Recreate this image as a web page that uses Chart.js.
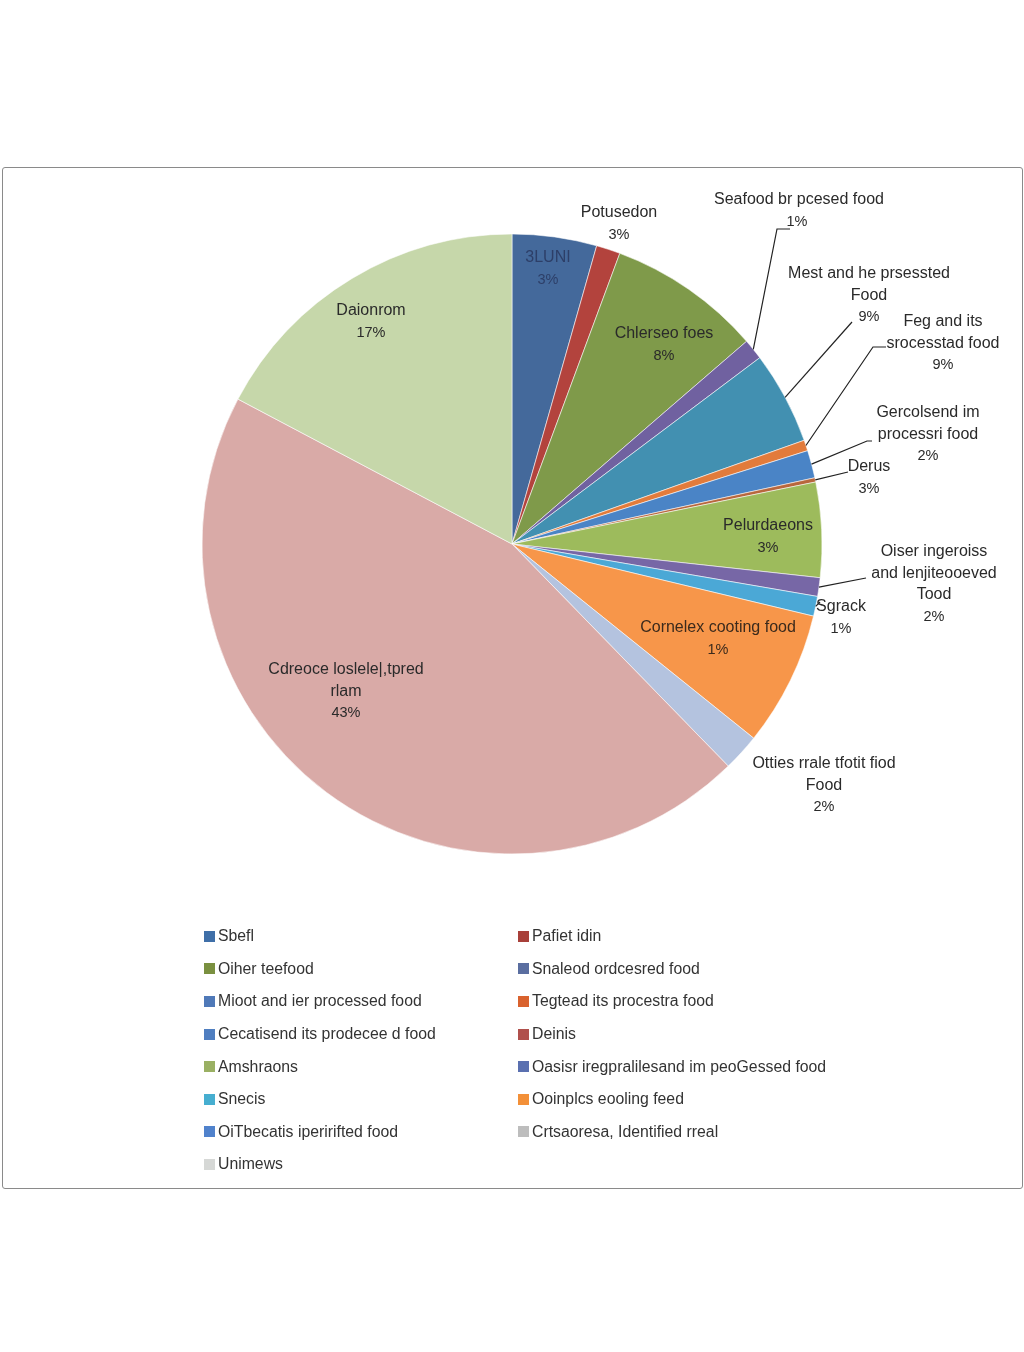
<!DOCTYPE html>
<html>
<head>
<meta charset="utf-8">
<script src="https://cdn.jsdelivr.net/npm/chart.js@4"></script>
<style>
  html, body { margin:0; padding:0; background:#fff; }
  body { width:1024px; height:1352px; position:relative; overflow:hidden; font-family:"Liberation Sans", Arial, sans-serif; }
  #box { position:absolute; left:2px; top:167px; width:1021px; height:1022px; border:1.5px solid #8a8a8a; border-radius:3px; box-sizing:border-box; }
  #wrap { position:absolute; left:0; top:167px; width:1024px; height:754px; }
  #legend { position:absolute; left:204px; top:920px; width:720px; display:grid; grid-template-columns:314px 400px; grid-auto-rows:32.6px; }
  .li { display:flex; align-items:center; font-size:15.8px; color:#333; white-space:nowrap; }
  .sw { width:11px; height:11px; margin-right:3px; flex:none; }
</style>
</head>
<body>
<div id="box"></div>
<div id="wrap"><canvas id="c" width="1024" height="754"></canvas></div>
<div id="legend"></div>
<script>
// ---- data ----
const categories = [
  "Sbefl", "Pafiet idin", "Oiher teefood", "Snaleod ordcesred food",
  "Mioot and ier processed food", "Tegtead its procestra food",
  "Cecatisend its prodecee d food", "Deinis", "Amshraons",
  "Oasisr iregpralilesand im peoGessed food", "Snecis",
  "Ooinplcs eooling feed", "OiTbecatis iperirifted food",
  "Crtsaoresa, Identified rreal", "Unimews"
];
const shares = [4.4, 1.25, 8.0, 1.08, 4.83, 0.56, 1.44, 0.22, 4.94, 0.97, 1.03, 7.03, 1.94, 45.0, 17.25];
const sliceLabels = [
  ["3LUNI"], ["Potusedon"], ["Chlerseo foes"], ["Seafood br pcesed food"],
  ["Mest and he prsessted", "Food"], ["Feg and its", "srocesstad food"],
  ["Gercolsend im", "processri food"], ["Derus"], ["Pelurdaeons"],
  ["Oiser ingeroiss", "and lenjiteooeved", "Tood"], ["Sgrack"],
  ["Cornelex cooting food"], ["Otties rrale tfotit fiod", "Food"],
  ["Cdreoce loslele|,tpred", "rlam"], ["Daionrom"]
];
const pctLabels = ["3%", "3%", "8%", "1%", "9%", "9%", "2%", "3%", "3%", "2%", "1%", "1%", "2%", "43%", "17%"];

// ---- styles ----
const sliceColors = ["#44699b", "#b3433d", "#7f9a4a", "#7061a0", "#4290b1", "#e27b3b", "#4a84c6", "#b8673d",
  "#9dbb5c", "#7767a6", "#4ba8d6", "#f7964a", "#b4c3df", "#d9aaa7", "#c6d7aa"];
const legendColors = ["#3f6fa8", "#a8403a", "#7a9040", "#5a6ea0", "#4f79b8", "#d9622e", "#4f7ec0", "#b0504c",
  "#9ab063", "#5a70b0", "#46aed0", "#f39038", "#5082cc", "#bdbdbd", "#d6d8d6"];
// label layout: offsets from pie centre (text centre of first line), optional leader elbow/end
const labelLayout = [
  {dx:36, dy:-286, color:"#2d3f68"},
  {dx:107, dy:-331},
  {dx:152, dy:-210},
  {dx:287, dy:-344, pctDx:-2, leader:[[265,-315],[278,-315]]},
  {dx:357, dy:-270, leader:[[340,-222]]},
  {dx:431, dy:-222, leader:[[361,-197],[374,-197]]},
  {dx:416, dy:-131, leader:[[355,-103],[360,-103]]},
  {dx:357, dy:-77, leader:[[336,-72]]},
  {dx:256, dy:-18},
  {dx:422, dy:8, leader:[[354,34]]},
  {dx:329, dy:63, leader:[[308,58]]},
  {dx:206, dy:84, color:"#3b2a1c"},
  {dx:312, dy:220},
  {dx:-166, dy:126},
  {dx:-141, dy:-233}
];

const labelPlugin = {
  id: 'sliceLabels',
  afterDatasetsDraw(chart) {
    const ctx = chart.ctx;
    const arcs = chart.getDatasetMeta(0).data;
    ctx.save();
    arcs.forEach((arc, i) => {
      const L = labelLayout[i];
      const cx = arc.x, cy = arc.y;
      if (L.leader) {
        const mid = (arc.startAngle + arc.endAngle) / 2;
        ctx.beginPath();
        ctx.moveTo(cx + Math.cos(mid) * arc.outerRadius, cy + Math.sin(mid) * arc.outerRadius);
        L.leader.forEach(p => ctx.lineTo(cx + p[0], cy + p[1]));
        ctx.strokeStyle = "#222";
        ctx.lineWidth = 1.2;
        ctx.stroke();
      }
      ctx.fillStyle = L.color || "#2a2a2a";
      ctx.textAlign = "center";
      ctx.textBaseline = "middle";
      ctx.font = '16px "Liberation Sans", Arial, sans-serif';
      const lines = sliceLabels[i];
      lines.forEach((t, k) => ctx.fillText(t, cx + L.dx, cy + L.dy + k * 21.5));
      ctx.font = '14.5px "Liberation Sans", Arial, sans-serif';
      ctx.fillText(pctLabels[i], cx + L.dx + (L.pctDx || 0), cy + L.dy + lines.length * 21.5);
    });
    ctx.restore();
  }
};

new Chart(document.getElementById('c'), {
  type: 'pie',
  data: {
    labels: categories,
    datasets: [{
      data: shares,
      backgroundColor: sliceColors,
      borderColor: "rgba(255,255,255,0.55)",
      borderWidth: 1,
      radius: 310
    }]
  },
  options: {
    responsive: false,
    animation: false,
    layout: { padding: 0 },
    plugins: { legend: { display: false }, tooltip: { enabled: false } }
  },
  plugins: [labelPlugin]
});

const leg = document.getElementById('legend');
categories.forEach((name, i) => {
  const d = document.createElement('div');
  d.className = 'li';
  d.innerHTML = '<span class="sw" style="background:' + legendColors[i] + '"></span>' + name;
  leg.appendChild(d);
});
</script>
</body>
</html>
